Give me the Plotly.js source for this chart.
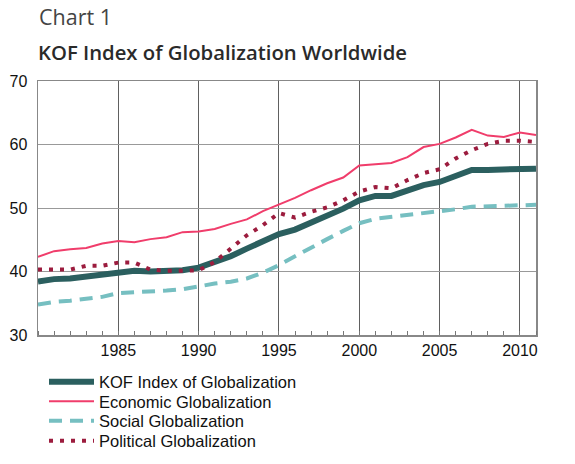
<!DOCTYPE html>
<html>
<head>
<meta charset="utf-8">
<script src="https://cdn.plot.ly/plotly-3.0.1.min.js"></script>
<style>html,body{margin:0;padding:0;background:#fff;}#chart{width:575px;height:464px;}</style>
</head>
<body>
<div id="chart"></div>
<script>
const years = [1980,1981,1982,1983,1984,1985,1986,1987,1988,1989,1990,1991,1992,1993,1994,1995,1996,1997,1998,1999,2000,2001,2002,2003,2004,2005,2006,2007,2008,2009,2010,2011];
const kofIndex = [38.4,38.8,38.9,39.2,39.6,40.0,40.1,40.0,40.0,40.2,40.6,41.4,42.4,43.6,44.7,45.9,46.6,47.7,48.7,49.9,51.2,51.9,51.9,52.7,53.6,54.1,55.1,56.0,56.0,56.1,56.3,56.2];
const economic = [42.3,43.2,43.5,43.7,44.4,44.8,44.6,45.1,45.4,46.2,46.3,46.7,47.5,48.2,49.5,50.5,51.6,52.8,53.9,54.8,56.7,56.9,57.1,58.0,59.6,60.1,61.1,62.3,61.4,61.2,61.9,61.5];
const social = [34.8,35.2,35.4,35.7,36.0,36.6,36.7,36.8,37.0,37.2,37.7,38.1,38.4,38.9,39.8,41.0,42.4,43.8,45.1,46.4,47.6,48.3,48.6,48.8,49.2,49.4,49.8,50.2,50.3,50.3,50.4,50.5];
const political = [40.3,40.3,40.3,40.9,40.9,41.4,41.4,40.3,40.1,40.1,40.2,41.5,43.6,45.7,47.3,49.2,48.5,49.4,50.1,51.2,52.6,53.3,53.1,54.4,55.5,56.1,57.8,59.1,60.1,60.6,60.6,60.4];
const seriesNames = ["KOF Index of Globalization","Economic Globalization","Social Globalization","Political Globalization"];
const xTickVals = [1985,1990,1995,2000,2005,2010];
const yTickVals = [30,40,50,60,70];

const legendIds = ['legend','legend2','legend3','legend4'];
const traces = [
  {x: years, y: kofIndex, name: seriesNames[0], mode: 'lines', legend: legendIds[0], line: {color: '#2b5f5f', width: 6}},
  {x: years, y: economic, name: seriesNames[1], mode: 'lines', legend: legendIds[1], line: {color: '#f03d6b', width: 2}},
  {x: years, y: social, name: seriesNames[2], mode: 'lines', legend: legendIds[2], line: {color: '#76bfc1', width: 4, dash: '13px,8px'}},
  {x: years, y: political, name: seriesNames[3], mode: 'lines', legend: legendIds[3], line: {color: '#9c1c3e', width: 4, dash: '4px,7px'}}
];

const legendFont = {family: 'Liberation Sans, Arial, sans-serif', size: 16.5, color: '#111'};
const rowCenters = [382, 401.5, 421, 441];
function legendAt(i) {
  return {
    xref: 'paper', yref: 'container',
    x: 6 / 498, xanchor: 'left',
    y: 1 - rowCenters[i] / 464, yanchor: 'middle',
    font: legendFont, itemwidth: 45, bgcolor: 'rgba(0,0,0,0)', borderwidth: 0
  };
}

const layout = {
  width: 575, height: 464,
  margin: {l: 38, r: 39, t: 81, b: 129},
  paper_bgcolor: '#fff', plot_bgcolor: '#fff',
  font: {family: 'Liberation Sans, Arial, sans-serif', size: 16, color: '#111'},
  showlegend: true,
  legend: legendAt(0), legend2: legendAt(1), legend3: legendAt(2), legend4: legendAt(3),
  xaxis: {
    range: [1980, 2011], tickmode: 'array', tickvals: xTickVals,
    showgrid: true, gridcolor: '#606060', gridwidth: 1,
    showline: true, mirror: true, linecolor: '#888', linewidth: 1.5,
    ticks: '', zeroline: false,
    minor: {tickmode: 'linear', tick0: 1980, dtick: 1, ticks: 'inside', ticklen: 4, tickcolor: '#777', tickwidth: 1, showgrid: false},
    tickfont: {family: 'Liberation Sans, Arial, sans-serif', size: 16, color: '#111'}
  },
  yaxis: {
    range: [30, 70], tickmode: 'array', tickvals: yTickVals,
    showgrid: true, gridcolor: '#999', gridwidth: 1,
    showline: true, mirror: true, linecolor: '#888', linewidth: 1.5,
    ticks: '', zeroline: false, ticklabelstandoff: 6,
    tickfont: {family: 'Liberation Sans, Arial, sans-serif', size: 16, color: '#111'}
  },
  annotations: [
    {text: 'Chart 1', xref: 'paper', yref: 'paper', x: -0.002, y: 1.0, xanchor: 'left', yanchor: 'bottom',
     yshift: 48, showarrow: false, font: {family: 'Open Sans, sans-serif', size: 21.5, color: '#444'}},
    {text: 'KOF Index of Globalization Worldwide', xref: 'paper', yref: 'paper', x: -0.004, y: 1.0, xanchor: 'left', yanchor: 'bottom',
     yshift: 13, showarrow: false, font: {family: 'Open Sans, sans-serif', size: 20.3, color: '#2a2a2a', weight: 600}}
  ]
};

Plotly.newPlot('chart', traces, layout, {displayModeBar: false, staticPlot: true});
</script>
</body>
</html>
